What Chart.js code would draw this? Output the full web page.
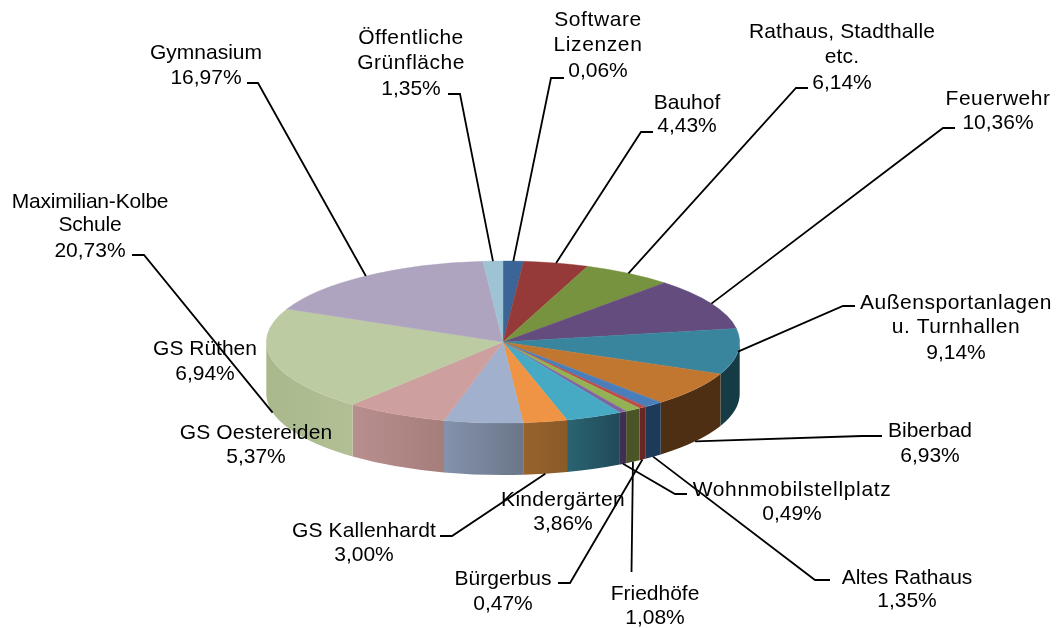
<!DOCTYPE html>
<html lang="de">
<head>
<meta charset="utf-8">
<title>Verteilung</title>
<script src="https://cdn.jsdelivr.net/npm/chart.js@4/dist/chart.umd.min.js"></script>
<style>
    html, body { margin: 0; padding: 0; background: #FFFFFF; }
    canvas { display: block; filter: blur(0.35px); }
</style>
</head>
<body>
<canvas id="pieChart" width="1058" height="628"></canvas>
<script>
/* ===========================
   DATA
   =========================== */

const categories = [
    ['Software', 'Lizenzen'], ['Bauhof'], ['Rathaus, Stadthalle', 'etc.'], ['Feuerwehr'],
    ['Außensportanlagen', 'u. Turnhallen'], ['Biberbad'], ['Altes Rathaus'], ['Bürgerbus'],
    ['Friedhöfe'], ['Wohnmobilstellplatz'], ['Kindergärten'], ['GS Kallenhardt'],
    ['GS Oestereiden'], ['GS Rüthen'], ['Maximilian-Kolbe', 'Schule'], ['Gymnasium'],
    ['Öffentliche', 'Grünfläche']
];

// Wedge sizes in percent. The first wedge is drawn about 1,39 wide although its label prints 0,06%
const sliceValues = [1.39, 4.43, 6.14, 10.36, 9.14, 6.93, 1.35, 0.47, 1.08, 0.49, 3.86, 3.00, 5.37, 6.94, 20.73, 16.97, 1.35];

const percentLabels = [
    '0,06%', '4,43%', '6,14%', '10,36%', '9,14%', '6,93%', '1,35%', '0,47%', '1,08%',
    '0,49%', '3,86%', '3,00%', '5,37%', '6,94%', '20,73%', '16,97%', '1,35%'
];

/* ===========================
   STYLE AND LAYOUT
   =========================== */

const topColors = [
    '#3B6597', '#953A38', '#78933F', '#644C7E', '#3A859E', '#C1772F', '#4A7EBB', '#BE4B48', '#93B254',
    '#8064A2', '#46AAC4', '#EE9444', '#A1B0CD', '#CD9F9E', '#BCCBA2', '#AFA4BF', '#9DC3D4'
];
const wallLeft = [
    '#1F3A58', '#5A2221', '#475826', '#3C2E4C', '#153C44', '#4F2F14', '#1F3A58', '#6A2525', '#4A5426',
    '#3F2F50', '#2A6472', '#99622C', '#8492AC', '#B88F8E', '#A9B98C', '#6A6273', '#5F7580'
];
const wallRight = [
    '#1F3A58', '#5A2221', '#475826', '#3C2E4C', '#153C44', '#4F2F14', '#1F3A58', '#6A2525', '#4A5426',
    '#3F2F50', '#214A58', '#8A5A28', '#6B7688', '#A57E7C', '#B2BF95', '#6A6273', '#5F7580'
];

const pieCenterY = 342;
const pieRadiusY = 81;
const pieDepth = 52;

// Label centres: x, then the y of each text line
const labelX = [598, 687, 842, 998, 956, 930, 907, 503, 655, 792, 563, 364, 256, 205, 90, 206, 411];
const labelY = [
    [20, 45, 71], [103, 126], [32, 57, 83], [99, 123], [303, 327, 353], [431, 456], [578, 601], [579, 604],
    [594, 618], [490, 514], [500, 524], [531, 555], [433, 457], [349, 374], [202, 225, 251], [53, 78], [38, 63, 89]
];
// Extra letter spacing in px, the reference runs some labels wider
const labelSpacing = [0.6, 0, 0.15, 0.5, 0.5, 0, 0, 0, 0, 0.65, 0.3, 0.1, 0.15, 0, -0.2, 0, 0.5];

// Leader lines: points from the label side towards the wedge (null = no leader)
const leaderPoints = [
    [[564, 78], [551, 78]], [[653, 132], [641, 132]], [[808, 88], [796, 88]], [[955, 128], [943, 128]],
    [[855, 306], [843, 306]], [[882, 436], [862, 436]], [[830, 580], [815, 580]], [[558, 583], [570, 583]],
    [[631.5, 572]], [[687, 494], [675, 494]], null, [[440, 536], [452, 536]],
    null, null, [[132, 255], [144, 255]], [[247, 83], [258, 83]], [[448, 94], [460, 94]]
];

/* ===========================
   3D LOOK ON TOP OF THE PIE
   =========================== */

function drawWalls(chart) {
    const ctx = chart.ctx;
    chart.getDatasetMeta(0).data.forEach((arc, i) => {
        const rx = arc.outerRadius;
        const a0 = Math.max(arc.startAngle, 0);
        const a1 = Math.min(arc.endAngle, Math.PI);
        if (a0 >= a1) return;

        const x0 = arc.x + rx * Math.cos(a1);
        const x1 = arc.x + rx * Math.cos(a0);
        const gradient = ctx.createLinearGradient(x0, 0, x1, 0);
        gradient.addColorStop(0, wallLeft[i]);
        gradient.addColorStop(1, wallRight[i]);

        ctx.beginPath();
        ctx.ellipse(arc.x, pieCenterY, rx, pieRadiusY, 0, a0, a1);
        ctx.ellipse(arc.x, pieCenterY + pieDepth, rx, pieRadiusY, 0, a1, a0, true);
        ctx.closePath();
        ctx.fillStyle = gradient;
        ctx.fill();
    });
}

function drawLeaders(chart) {
    const ctx = chart.ctx;
    ctx.strokeStyle = '#000000';
    ctx.lineWidth = 1.8;
    chart.getDatasetMeta(0).data.forEach((arc, i) => {
        if (!leaderPoints[i]) return;
        const mid = (arc.startAngle + arc.endAngle) / 2;
        const endX = arc.x + arc.outerRadius * Math.cos(mid);
        let endY = pieCenterY + pieRadiusY * Math.sin(mid);
        // wedges facing the viewer are reached at the lower rim
        if (Math.sin(mid) > 0.2) endY += pieDepth;

        ctx.beginPath();
        leaderPoints[i].forEach((p, n) => {
            if (n === 0) ctx.moveTo(p[0], p[1]);
            else ctx.lineTo(p[0], p[1]);
        });
        ctx.lineTo(endX, endY);
        ctx.stroke();
    });
}

function drawLabels(chart) {
    const ctx = chart.ctx;
    ctx.fillStyle = '#000000';
    ctx.font = '21px "Liberation Sans", Arial, sans-serif';
    ctx.textAlign = 'center';
    ctx.textBaseline = 'middle';
    categories.forEach((lines, i) => {
        const rows = lines.concat(percentLabels[i]);
        rows.forEach((text, n) => {
            // percent lines keep the normal spacing
            ctx.letterSpacing = (n < lines.length ? labelSpacing[i] : 0) + 'px';
            ctx.fillText(text, labelX[i], labelY[i][n]);
        });
    });
    ctx.letterSpacing = '0px';
}

const pie3d = {
    id: 'pie3d',
    beforeDatasetsDraw(chart) {
        const ctx = chart.ctx;
        const arc = chart.getDatasetMeta(0).data[0];
        drawWalls(chart);
        // the flat pie from Chart.js is squashed into the top face
        ctx.save();
        ctx.translate(arc.x, pieCenterY);
        ctx.scale(1, pieRadiusY / arc.outerRadius);
        ctx.translate(-arc.x, -arc.y);
    },
    afterDatasetsDraw(chart) {
        chart.ctx.restore();
        drawLeaders(chart);
        drawLabels(chart);
    }
};

/* ===========================
   CHART
   =========================== */

new Chart(document.getElementById('pieChart'), {
    type: 'pie',
    plugins: [pie3d],
    data: {
        labels: categories.map(c => c.join(' ')),
        datasets: [{
            data: sliceValues,
            backgroundColor: topColors,
            borderColor: topColors,
            borderWidth: 0.6,
            clip: false
        }]
    },
    options: {
        responsive: false,
        animation: false,
        devicePixelRatio: 1,
        layout: { padding: { left: 266, right: 318, top: 77, bottom: 77 } },
        plugins: {
            legend: { display: false },
            tooltip: { enabled: false }
        }
    }
});
</script>
</body>
</html>
